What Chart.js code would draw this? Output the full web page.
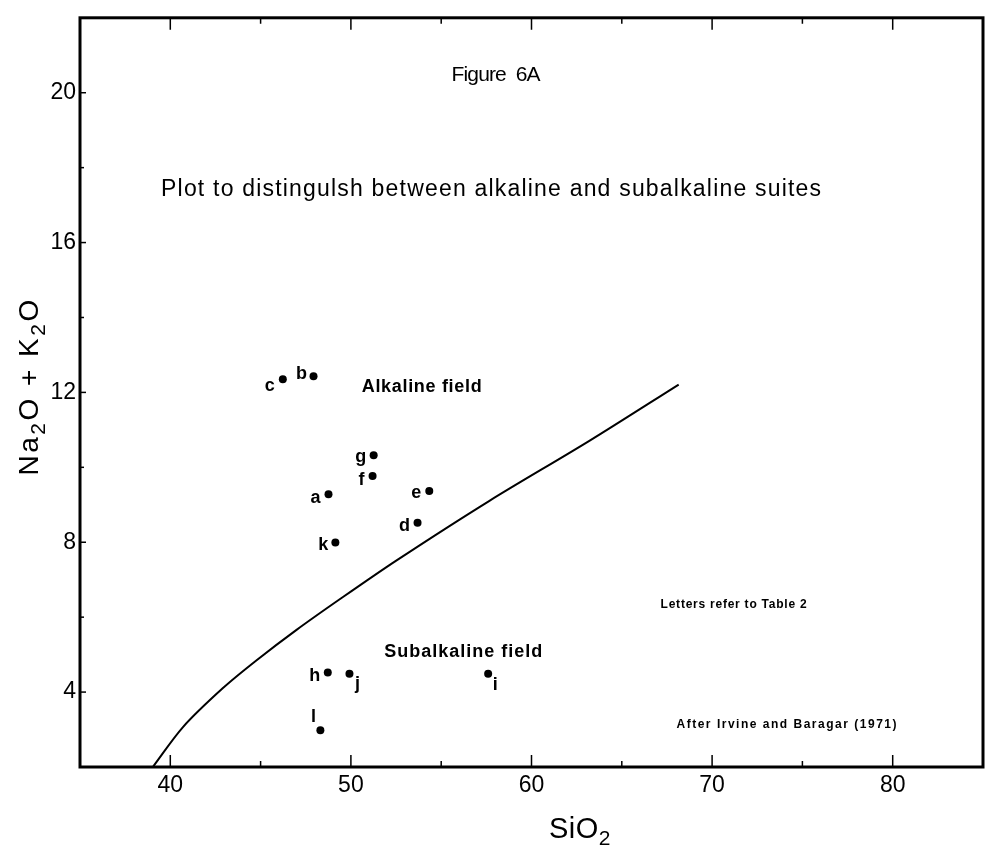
<!DOCTYPE html>
<html><head><meta charset="utf-8">
<script src="https://cdn.jsdelivr.net/npm/chart.js@4.4.1/dist/chart.umd.min.js"></script>
<style>html,body{margin:0;padding:0;background:#fff;}#wrap{width:988px;height:855px;}</style>
</head><body><div id="wrap"><canvas id="c" width="988" height="855"></canvas></div>
<script>
// ---- data ----
const sampleLabels = ['a','b','c','d','e','f','g','h','i','j','k','l'];
const sio2    = [48.76, 47.93, 46.23, 53.69, 54.34, 51.20, 51.26, 48.72, 57.60, 49.92, 49.14, 48.31];
const alkalis = [ 9.28, 12.43, 12.35,  8.52,  9.37,  9.77, 10.32,  4.52,  4.49,  4.49,  7.99,  2.98];
const boundarySiO2 = [39.03, 40.69, 42.90, 44.78, 46.99, 49.36, 52.51, 57.65, 63.18, 68.15];
const boundaryAlk  = [ 2.00,  3.06,  4.10,  4.85,  5.66,  6.47,  7.51,  9.10, 10.70, 12.21];
const xTickLabels = [40, 50, 60, 70, 80];
const yTickLabels = [4, 8, 12, 16, 20];
const figureTitle = 'Figure  6A';
const figureSubtitle = 'Plot to distingulsh between alkaline and subalkaline suites';
const fieldAlkaline = 'Alkaline field';
const fieldSubalkaline = 'Subalkaline field';
const noteLetters = 'Letters refer to Table 2';
const noteSource = 'After Irvine and Baragar (1971)';

// ---- styling / placement config ----
const FONT = '"Liberation Sans", Arial, Helvetica, sans-serif';
const labelOffset = { a:[-13,4], b:[-12,-2], c:[-13,7], d:[-13,3], e:[-13,2], f:[-11,4],
  g:[-13,2], h:[-13,3], i:[7,11], j:[8,10], k:[-12,2], l:[-7,-13] };
const annotations = [
  { text: figureTitle, x: 58.04, y: 20.48, font: '21px', width: 89 },
  { text: figureSubtitle, x: 57.76, y: 17.40, font: '23px', width: 660 },
  { text: fieldAlkaline, x: 53.92, y: 12.13, font: 'bold 18px', width: 120 },
  { text: fieldSubalkaline, x: 56.22, y: 5.06, font: 'bold 18px', width: 158 },
  { text: noteLetters, x: 71.19, y: 6.34, font: 'bold 12px', width: 146 },
  { text: noteSource, x: 74.12, y: 3.12, font: 'bold 12px', width: 220 }
];

function drawFitted(ctx, text, cx, cy, font, width) {
  ctx.save();
  ctx.font = font + ' ' + FONT;
  ctx.letterSpacing = '0px';
  const w = ctx.measureText(text).width;
  const n = text.length;
  let ls = n > 1 ? (width - w) / (n - 1) : 0;
  ctx.letterSpacing = ls + 'px';
  ctx.textAlign = 'left';
  ctx.textBaseline = 'middle';
  ctx.fillStyle = '#000';
  ctx.fillText(text, cx - width / 2, cy);
  ctx.restore();
}

function measureSegments(ctx, segs, bigPx, smallPx, spacing) {
  let x = 0;
  const parts = segs.map(s => {
    ctx.font = (s[1] ? smallPx : bigPx) + 'px ' + FONT;
    ctx.letterSpacing = spacing + 'px';
    const w = ctx.measureText(s[0]).width;
    const p = { t: s[0], sub: s[1], x: x, w: w };
    x += w;
    return p;
  });
  return { parts, total: x };
}
function renderSegments(ctx, segs, cx, cy, bigPx, smallPx, subShift, spacing) {
  const m = measureSegments(ctx, segs, bigPx, smallPx, spacing);
  const x0 = cx - m.total / 2;
  ctx.textAlign = 'left';
  ctx.textBaseline = 'alphabetic';
  ctx.fillStyle = '#000';
  m.parts.forEach(p => {
    ctx.font = (p.sub ? smallPx : bigPx) + 'px ' + FONT;
    ctx.letterSpacing = spacing + 'px';
    ctx.fillText(p.t, x0 + p.x, cy + (p.sub ? subShift : 0));
  });
}

const framePlugin = {
  id: 'frame',
  afterDraw(chart) {
    const { ctx, chartArea: a, scales } = chart;
    const xs = scales.x, ys = scales.y;
    ctx.save();
    ctx.strokeStyle = '#000';
    ctx.lineWidth = 1.5;
    xs.ticks.forEach(t => {
      const v = t.value;
      if (v <= xs.min || v >= xs.max) return;
      const px = xs.getPixelForValue(v);
      const len = (v % 10 === 0) ? 12 : 6;
      ctx.beginPath();
      ctx.moveTo(px, a.bottom); ctx.lineTo(px, a.bottom - len);
      ctx.moveTo(px, a.top); ctx.lineTo(px, a.top + len);
      ctx.stroke();
    });
    ys.ticks.forEach(t => {
      const v = t.value;
      if (v <= ys.min || v >= ys.max) return;
      const py = ys.getPixelForValue(v);
      const len = (v % 4 === 0) ? 6 : 4;
      ctx.beginPath();
      ctx.moveTo(a.left, py); ctx.lineTo(a.left + len, py);
      ctx.stroke();
    });
    ctx.lineWidth = 3;
    ctx.strokeRect(a.left, a.top, a.right - a.left, a.bottom - a.top);

    ctx.fillStyle = '#000';
    ctx.font = 'bold 18px ' + FONT;
    ctx.textAlign = 'center';
    ctx.textBaseline = 'middle';
    sampleLabels.forEach((lab, i) => {
      const px = xs.getPixelForValue(sio2[i]);
      const py = ys.getPixelForValue(alkalis[i]);
      const o = labelOffset[lab] || [-12, 2];
      ctx.fillText(lab, px + o[0], py + o[1]);
    });

    annotations.forEach(an => {
      drawFitted(ctx, an.text, xs.getPixelForValue(an.x), ys.getPixelForValue(an.y), an.font, an.width);
    });

    ctx.save();
    ctx.translate(a.left - 42, (a.top + a.bottom) / 2 - 6);
    ctx.rotate(-Math.PI / 2);
    renderSegments(ctx, [['Na', false], ['2', true], ['O + K', false], ['2', true], ['O', false]], 0, 0, 28, 21, 7, 2.5);
    ctx.restore();
    renderSegments(ctx, [['SiO', false], ['2', true]], 580, 838, 29, 21, 7, 0.5);
    ctx.restore();
  }
};

const chart = new Chart(document.getElementById('c'), {
  type: 'scatter',
  data: {
    datasets: [
      {
        label: 'boundary',
        data: boundarySiO2.map((x, i) => ({ x, y: boundaryAlk[i] })),
        showLine: true,
        borderColor: '#000',
        borderWidth: 2,
        pointRadius: 0,
        fill: false,
        tension: 0.3
      },
      {
        label: 'samples',
        data: sio2.map((x, i) => ({ x, y: alkalis[i] })),
        showLine: false,
        pointRadius: 4,
        pointBackgroundColor: '#000',
        pointBorderColor: '#000',
        pointBorderWidth: 0
      }
    ]
  },
  options: {
    responsive: false,
    devicePixelRatio: 1,
    animation: false,
    layout: { padding: { top: 15, right: 3, left: 0, bottom: 0 } },
    plugins: { legend: { display: false }, tooltip: { enabled: false }, title: { display: false } },
    scales: {
      x: {
        type: 'linear', min: 35, max: 85,
        grid: { display: false, drawTicks: false },
        border: { display: false },
        ticks: {
          stepSize: 5, autoSkip: false, maxRotation: 0, padding: 5,
          color: '#000', font: { family: FONT, size: 23 },
          callback: v => xTickLabels.includes(v) ? String(v) : ''
        },
        afterFit: s => { s.height = 88; }
      },
      y: {
        type: 'linear', min: 2, max: 22,
        grid: { display: false, drawTicks: false },
        border: { display: false },
        ticks: {
          stepSize: 2, autoSkip: false, padding: 4,
          color: '#000', font: { family: FONT, size: 23 },
          callback: v => yTickLabels.includes(v) ? String(v) : ''
        },
        afterFit: s => { s.width = 80; }
      }
    }
  },
  plugins: [framePlugin]
});
</script>
</body></html>
